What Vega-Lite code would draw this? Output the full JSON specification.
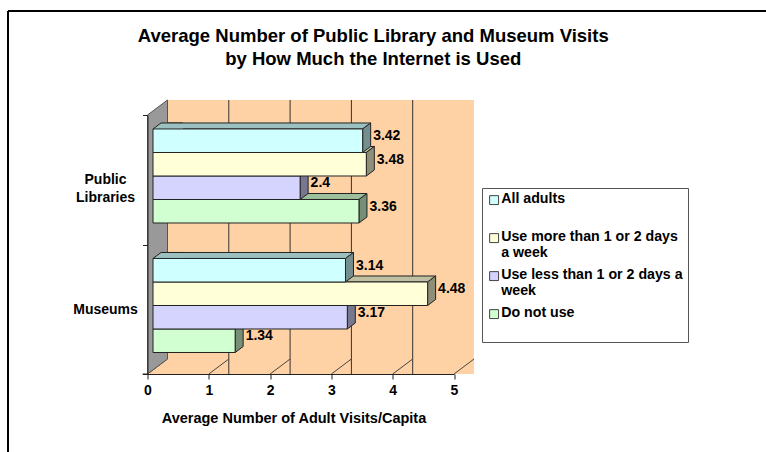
{
"$schema":"https://vega.github.io/schema/vega-lite/v6.json",
"width":306.5,"height":259,"autosize":"none",
"padding":{"left":147.5,"top":115,"right":312,"bottom":78},
"background":"white",
"title":{"text":["Average Number of Public Library and Museum Visits","by How Much the Internet is Used"],"font":"Liberation Sans","fontSize":18.5,"fontWeight":"bold","color":"#000","anchor":"middle","frame":"group","dx":72.5,"offset":-61,"lineHeight":22.5},
"config":{"view":{"stroke":null},"font":"Liberation Sans"},
"datasets":{
"bars":[
{"group":"Museums","series":"Do not use","base":0,"value":1.34},
{"group":"Museums","series":"Use less than 1 or 2 days a week","base":0,"value":3.17},
{"group":"Museums","series":"Use more than 1 or 2 days a week","base":0,"value":4.48},
{"group":"Museums","series":"All adults","base":0,"value":3.14},
{"group":"Public Libraries","series":"Do not use","base":0,"value":3.36},
{"group":"Public Libraries","series":"Use less than 1 or 2 days a week","base":0,"value":2.4},
{"group":"Public Libraries","series":"Use more than 1 or 2 days a week","base":0,"value":3.48},
{"group":"Public Libraries","series":"All adults","base":0,"value":3.42}
],
"tips":[{"group":"Museums","series":"All adults","start":0},{"group":"Public Libraries","series":"All adults","start":0}],
"ticks":[{"t":0},{"t":1},{"t":2},{"t":3},{"t":4},{"t":5}],
"grid":[{"t":1},{"t":2},{"t":3},{"t":4}],
"one":[{"a":0,"b":5}]
},
"layer":[
{"data":{"name":"one"},"mark":{"type":"point","shape":"M-139.5,-233.5L700,-233.5M-139.5,-233.5L-139.5,400","size":4,"stroke":"#000","strokeWidth":2,"filled":false,"opacity":1},"encoding":{"x":{"field":"a","type":"quantitative","scale":{"domain":[0,5],"nice":false}}}},
{"data":{"name":"one"},"mark":{"type":"rect","fill":"#FFD2A6","xOffset":20,"x2Offset":20,"yOffset":-15,"y2Offset":-15},"encoding":{"x":{"field":"a","type":"quantitative"},"x2":{"field":"b"}}},
{"data":{"name":"one"},"mark":{"type":"point","shape":"M0,129.5L306.5,129.5L326.5,114.5L20,114.5Z","size":4,"fill":"#FFD2A6","filled":true,"opacity":1,"strokeWidth":0},"encoding":{"x":{"field":"a","type":"quantitative"}}},
{"data":{"name":"grid"},"mark":{"type":"rule","color":"#333","strokeWidth":1,"xOffset":20,"yOffset":-15,"y2Offset":-15},"encoding":{"x":{"field":"t","type":"quantitative"}}},
{"data":{"name":"ticks"},"mark":{"type":"point","shape":"M0,129.5L20,114.5","size":4,"stroke":"#444","strokeWidth":1,"filled":false,"opacity":1},"encoding":{"x":{"field":"t","type":"quantitative"}}},
{"data":{"name":"one"},"mark":{"type":"point","shape":"M-5,129.5L0,129.5","size":4,"stroke":"#222","strokeWidth":1,"filled":false,"opacity":1},"encoding":{"x":{"field":"a","type":"quantitative"}}},

{"data":{"name":"bars"},"mark":{"type":"point","clip":true,"shape":"M0,-11.75L8,-17.75L-400,-17.75L-400,-11.75Z","size":4,"filled":true,"opacity":1,"xOffset":5.5,"strokeWidth":0},
"encoding":{"y":{"field":"group","type":"nominal","sort":["Public Libraries","Museums"]},"yOffset":{"field":"series","type":"nominal","sort":["All adults","Use more than 1 or 2 days a week","Use less than 1 or 2 days a week","Do not use"]},"x":{"field":"value","type":"quantitative"},"fill":{"field":"series","type":"nominal"}}},
{"data":{"name":"bars"},"mark":{"type":"point","clip":true,"shape":"M0,-11.75L8,-17.75L-400,-17.75L-400,-11.75Z","size":4,"filled":true,"opacity":1,"fill":"#000","fillOpacity":0.25,"stroke":"#222","strokeWidth":1,"xOffset":5.5},
"encoding":{"y":{"field":"group","type":"nominal","sort":["Public Libraries","Museums"]},"yOffset":{"field":"series","type":"nominal","sort":["All adults","Use more than 1 or 2 days a week","Use less than 1 or 2 days a week","Do not use"]},"x":{"field":"value","type":"quantitative"}}},

{"data":{"name":"one"},"mark":{"type":"point","shape":"M0,-129.5L20,-144.5L20,114.5L0,129.5Z","size":4,"fill":"#999999","filled":true,"opacity":1,"stroke":"#555","strokeWidth":1},"encoding":{"x":{"field":"a","type":"quantitative"}}},

{"data":{"name":"tips"},"mark":{"type":"point","shape":"M0,-11.75L8,-17.75L30,-17.75L30,-11.75Z","size":4,"filled":true,"opacity":1,"xOffset":5.5,"strokeWidth":0},
"encoding":{"y":{"field":"group","type":"nominal","sort":["Public Libraries","Museums"]},"yOffset":{"field":"series","type":"nominal","sort":["All adults","Use more than 1 or 2 days a week","Use less than 1 or 2 days a week","Do not use"]},"x":{"field":"start","type":"quantitative"},"fill":{"field":"series","type":"nominal"}}},
{"data":{"name":"tips"},"mark":{"type":"point","shape":"M0,-11.75L8,-17.75L30,-17.75L30,-11.75Z","size":4,"filled":true,"opacity":1,"fill":"#000","fillOpacity":0.25,"strokeWidth":0,"xOffset":5.5},
"encoding":{"y":{"field":"group","type":"nominal","sort":["Public Libraries","Museums"]},"yOffset":{"field":"series","type":"nominal","sort":["All adults","Use more than 1 or 2 days a week","Use less than 1 or 2 days a week","Do not use"]},"x":{"field":"start","type":"quantitative"}}},
{"data":{"name":"tips"},"mark":{"type":"point","shape":"M0,-11.75L8,-17.75L30,-17.75","size":4,"filled":false,"opacity":1,"stroke":"#222","strokeWidth":1,"xOffset":5.5},
"encoding":{"y":{"field":"group","type":"nominal","sort":["Public Libraries","Museums"]},"yOffset":{"field":"series","type":"nominal","sort":["All adults","Use more than 1 or 2 days a week","Use less than 1 or 2 days a week","Do not use"]},"x":{"field":"start","type":"quantitative"}}},

{"data":{"name":"bars"},"mark":{"type":"point","shape":"M0,-11.75L8,-17.75L8,5.75L0,11.75Z","size":4,"filled":true,"opacity":1,"xOffset":5.5,"strokeWidth":0},
"encoding":{"y":{"field":"group","type":"nominal","sort":["Public Libraries","Museums"]},"yOffset":{"field":"series","type":"nominal","sort":["All adults","Use more than 1 or 2 days a week","Use less than 1 or 2 days a week","Do not use"]},"x":{"field":"value","type":"quantitative"},"fill":{"field":"series","type":"nominal"}}},
{"data":{"name":"bars"},"mark":{"type":"point","shape":"M0,-11.75L8,-17.75L8,5.75L0,11.75Z","size":4,"filled":true,"opacity":1,"fill":"#000","fillOpacity":0.44,"stroke":"#222","strokeWidth":1,"xOffset":5.5},
"encoding":{"y":{"field":"group","type":"nominal","sort":["Public Libraries","Museums"]},"yOffset":{"field":"series","type":"nominal","sort":["All adults","Use more than 1 or 2 days a week","Use less than 1 or 2 days a week","Do not use"]},"x":{"field":"value","type":"quantitative"}}},

{"data":{"name":"bars"},"mark":{"type":"bar","stroke":"#222","strokeWidth":1,"xOffset":5.5,"x2Offset":5.5},
"encoding":{
"y":{"field":"group","type":"nominal","sort":["Public Libraries","Museums"],"scale":{"paddingInner":0,"paddingOuter":0},"title":null,
"axis":{"tickBand":"extent","zindex":1,"domainColor":"#222","tickColor":"#222","tickSize":5,"labelFont":"Liberation Sans","labelFontSize":14,"labelFontWeight":"bold","labelColor":"#000","labelPadding":37.5,"labelLimit":130,"labelExpr":"datum.label=='Public Libraries'?['Public','Libraries']:datum.label","labelAlign":"center","labelLineHeight":18}},
"yOffset":{"field":"series","type":"nominal","sort":["All adults","Use more than 1 or 2 days a week","Use less than 1 or 2 days a week","Do not use"],"scale":{"paddingInner":0,"paddingOuter":0.755,"align":0.394}},
"x":{"field":"base","type":"quantitative","title":"Average Number of Adult Visits/Capita",
"axis":{"zindex":1,"grid":false,"values":[0,1,2,3,4,5],"domainColor":"#222","tickColor":"#222","tickSize":5,"labelFont":"Liberation Sans","labelFontSize":14,"labelFontWeight":"bold","labelColor":"#000","labelPadding":4,"labelFlush":false,"titleFont":"Liberation Sans","titleFontSize":14.5,"titleFontWeight":"bold","titleColor":"#000","titlePadding":14,"titleX":146,"format":"d"}},
"x2":{"field":"value"},
"fill":{"field":"series","type":"nominal","scale":{"domain":["All adults","Use more than 1 or 2 days a week","Use less than 1 or 2 days a week","Do not use"],"range":["#D0FFFF","#FFFFD8","#D4D4FF","#D2FFD2"]},
"legend":{"title":null,"orient":"none","legendX":334.5,"legendY":73,"strokeColor":"#555","fillColor":"white","padding":5,"labelFont":"Liberation Sans","labelFontSize":14.2,"labelFontWeight":"bold","labelColor":"#000","labelLimit":260,"labelOffset":0,"symbolType":"square","symbolSize":80,"symbolStrokeColor":"#444","symbolStrokeWidth":1,"rowPadding":7,"labelBaseline":"top","encode":{"labels":{"update":{"dy":{"value":-8}}}},"labelExpr":"datum.label=='All adults'?['All adults',' ']:datum.label=='Do not use'?['Do not use',' ']:datum.label=='Use more than 1 or 2 days a week'?['Use more than 1 or 2 days','a week']:['Use less than 1 or 2 days a','week']"}}}},
{"data":{"name":"bars"},"mark":{"type":"text","align":"left","baseline":"middle","font":"Liberation Sans","fontSize":14,"fontWeight":"bold","color":"#000","dx":16,"dy":-4.5},
"encoding":{"y":{"field":"group","type":"nominal","sort":["Public Libraries","Museums"]},"yOffset":{"field":"series","type":"nominal","sort":["All adults","Use more than 1 or 2 days a week","Use less than 1 or 2 days a week","Do not use"]},"x":{"field":"value","type":"quantitative"},"text":{"field":"value","type":"nominal"}}}
]
}
